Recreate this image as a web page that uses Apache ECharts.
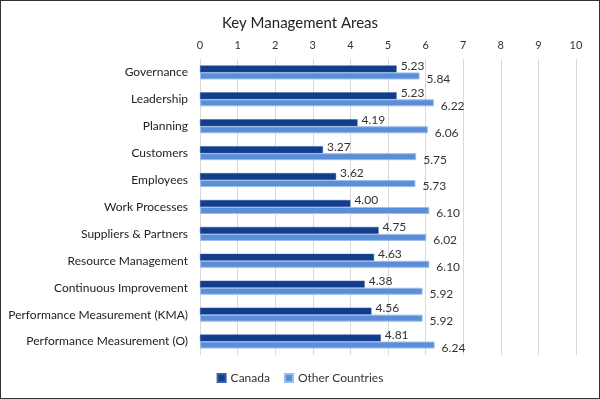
<!DOCTYPE html>
<html>
<head>
<meta charset="utf-8">
<script src="https://cdn.jsdelivr.net/npm/echarts@6/dist/echarts.min.js"></script>
<style>
  html, body { margin: 0; padding: 0; background: #fff; }
  #chart { width: 598px; height: 397px; border: 1px solid #333; }
</style>
</head>
<body>
<div id="chart"></div>
<script>
const categories = [
  "Governance", "Leadership", "Planning", "Customers", "Employees",
  "Work Processes", "Suppliers & Partners", "Resource Management",
  "Continuous Improvement", "Performance Measurement (KMA)", "Performance Measurement (O)"
];
const canada = [5.23, 5.23, 4.19, 3.27, 3.62, 4.00, 4.75, 4.63, 4.38, 4.56, 4.81];
const otherCountries = [5.84, 6.22, 6.06, 5.75, 5.73, 6.10, 6.02, 6.10, 5.92, 5.92, 6.24];

const font = "Lato";
const myChart = echarts.init(document.getElementById("chart"), null, { renderer: "canvas" });

const option = {
  animation: false,
  textStyle: { fontFamily: font },
  title: {
    text: "Key Management Areas",
    left: "center",
    top: 10,
    textStyle: { fontFamily: font, fontSize: 15, fontWeight: "normal", color: "#222" }
  },
  legend: {
    bottom: 9,
    left: "center",
    itemWidth: 8,
    itemHeight: 8,
    itemGap: 14,
    icon: "rect",
    textStyle: { fontFamily: font, fontSize: 12, color: "#333" },
    data: ["Canada", "Other Countries"]
  },
  grid: { left: 199, right: 23, top: 58, bottom: 43 },
  xAxis: {
    type: "value",
    position: "top",
    min: 0,
    max: 10,
    interval: 1,
    axisLine: { show: false },
    axisTick: { show: false },
    axisLabel: { fontFamily: font, fontSize: 11, color: "#333", margin: 8 },
    splitLine: { lineStyle: { color: "#d9d9d9" } }
  },
  yAxis: {
    type: "category",
    inverse: true,
    data: categories,
    axisLine: { show: false },
    axisTick: { show: false },
    axisLabel: { fontFamily: font, fontSize: 12, color: "#222", margin: 12 }
  },
  series: [
    {
      name: "Canada",
      type: "bar",
      data: canada,
      barWidth: 7,
      barGap: "0%",
      itemStyle: { color: "#123c8c", borderColor: "#3c5ea8", borderWidth: 0.5 },
      label: {
        show: true,
        position: "right",
        offset: [-1, -3],
        formatter: p => p.value.toFixed(2),
        fontFamily: font,
        fontSize: 12,
        color: "#333"
      }
    },
    {
      name: "Other Countries",
      type: "bar",
      data: otherCountries,
      barWidth: 7,
      itemStyle: { color: "#5a8ed8", borderColor: "#9dbde8", borderWidth: 1 },
      label: {
        show: true,
        position: "right",
        offset: [2, 3],
        formatter: p => p.value.toFixed(2),
        fontFamily: font,
        fontSize: 12,
        color: "#333"
      }
    }
  ]
};

myChart.setOption(option);
</script>
</body>
</html>
